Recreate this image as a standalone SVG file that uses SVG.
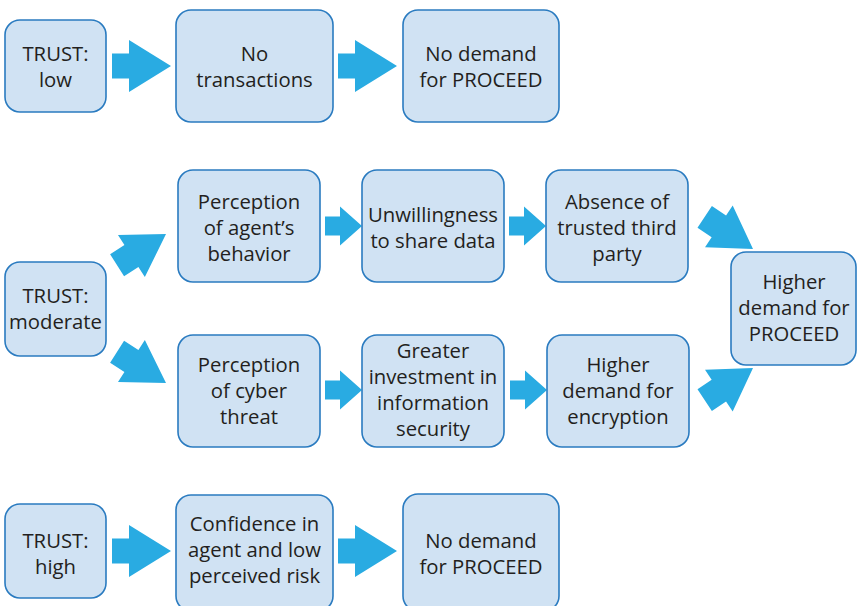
<svg xmlns="http://www.w3.org/2000/svg" xmlns:xlink="http://www.w3.org/1999/xlink" width="857" height="606" viewBox="0 0 857 606">
  <defs>
    <style>
      .box { fill: #d0e2f3; stroke: #2a7bc0; stroke-width: 1.6; }
      .lbl { font-family: "Open Sans", "Noto Sans", "Liberation Sans", sans-serif; font-size: 20.3px; fill: #231f20; text-anchor: middle; }
      .arr { fill: #29abe2; }
    </style>
    <!-- block arrows, tip at origin pointing +x -->
    <path id="bigArrow" d="M-59,-12.5 H-42 V-26 L0,0 L-42,26 V12.5 H-59 Z"/>
    <path id="smallArrow" d="M-37,-9.5 H-22 V-19.5 L0,0 L-22,19.5 V9.5 H-37 Z"/>
    <path id="diagArrow" d="M-58,-13 H-41 V-25 L0,0 L-41,25 V13 H-58 Z"/>
  </defs>

  <rect width="857" height="606" fill="#ffffff"/>

  <g id="connectors" class="arr">
    <!-- low trust row -->
    <use xlink:href="#bigArrow" transform="translate(171,66)"/>
    <use xlink:href="#bigArrow" transform="translate(397,66)"/>
    <!-- moderate trust rows -->
    <use xlink:href="#diagArrow" transform="translate(166,234) rotate(-32.5)"/>
    <use xlink:href="#diagArrow" transform="translate(166,383) rotate(32.5)"/>
    <use xlink:href="#smallArrow" transform="translate(362,226)"/>
    <use xlink:href="#smallArrow" transform="translate(546,226)"/>
    <use xlink:href="#smallArrow" transform="translate(362,390)"/>
    <use xlink:href="#smallArrow" transform="translate(547,390)"/>
    <use xlink:href="#diagArrow" transform="translate(753,249) rotate(33.6)"/>
    <use xlink:href="#diagArrow" transform="translate(753,368) rotate(-33.6)"/>
    <!-- high trust row -->
    <use xlink:href="#bigArrow" transform="translate(171,551)"/>
    <use xlink:href="#bigArrow" transform="translate(397,551)"/>
  </g>

  <!-- low trust -->
  <g id="trust-low">
    <rect class="box" x="5" y="20" width="101" height="92" rx="15"/>
    <text class="lbl"><tspan x="55.5" y="61">TRUST:</tspan><tspan x="55.5" y="87">low</tspan></text>
  </g>
  <g id="no-transactions">
    <rect class="box" x="176" y="10" width="157" height="112" rx="15"/>
    <text class="lbl"><tspan x="254.5" y="61">No</tspan><tspan x="254.5" y="87">transactions</tspan></text>
  </g>
  <g id="no-demand-low">
    <rect class="box" x="403" y="10" width="156" height="112" rx="15"/>
    <text class="lbl"><tspan x="481" y="61">No demand</tspan><tspan x="481" y="87">for PROCEED</tspan></text>
  </g>

  <!-- moderate trust -->
  <g id="trust-moderate">
    <rect class="box" x="5" y="262" width="101" height="94" rx="15"/>
    <text class="lbl"><tspan x="55.5" y="303">TRUST:</tspan><tspan x="55.5" y="329">moderate</tspan></text>
  </g>
  <g id="perception-agent">
    <rect class="box" x="178" y="170" width="142" height="112" rx="15"/>
    <text class="lbl"><tspan x="249" y="209">Perception</tspan><tspan x="249" y="235">of agent’s</tspan><tspan x="249" y="261">behavior</tspan></text>
  </g>
  <g id="unwillingness">
    <rect class="box" x="362" y="170" width="142" height="112" rx="15"/>
    <text class="lbl"><tspan x="433" y="222">Unwillingness</tspan><tspan x="433" y="248">to share data</tspan></text>
  </g>
  <g id="absence-third-party">
    <rect class="box" x="546" y="170" width="142" height="112" rx="15"/>
    <text class="lbl"><tspan x="617" y="209">Absence of</tspan><tspan x="617" y="235">trusted third</tspan><tspan x="617" y="261">party</tspan></text>
  </g>
  <g id="higher-demand-proceed">
    <rect class="box" x="731" y="252" width="125" height="113" rx="15"/>
    <text class="lbl"><tspan x="794" y="289">Higher</tspan><tspan x="794" y="315">demand for</tspan><tspan x="794" y="341">PROCEED</tspan></text>
  </g>
  <g id="perception-cyber">
    <rect class="box" x="178" y="335" width="142" height="112" rx="15"/>
    <text class="lbl"><tspan x="249" y="372">Perception</tspan><tspan x="249" y="398">of cyber</tspan><tspan x="249" y="424">threat</tspan></text>
  </g>
  <g id="greater-investment">
    <rect class="box" x="362" y="335" width="142" height="112" rx="15"/>
    <text class="lbl"><tspan x="433" y="358">Greater</tspan><tspan x="433" y="384">investment in</tspan><tspan x="433" y="410">information</tspan><tspan x="433" y="436">security</tspan></text>
  </g>
  <g id="higher-demand-encryption">
    <rect class="box" x="547" y="335" width="142" height="112" rx="15"/>
    <text class="lbl"><tspan x="618" y="372">Higher</tspan><tspan x="618" y="398">demand for</tspan><tspan x="618" y="424">encryption</tspan></text>
  </g>

  <!-- high trust -->
  <g id="trust-high">
    <rect class="box" x="5" y="504" width="101" height="94" rx="15"/>
    <text class="lbl"><tspan x="55.5" y="548">TRUST:</tspan><tspan x="55.5" y="574">high</tspan></text>
  </g>
  <g id="confidence">
    <rect class="box" x="176" y="495" width="157" height="116" rx="15"/>
    <text class="lbl"><tspan x="254.5" y="531">Confidence in</tspan><tspan x="254.5" y="557">agent and low</tspan><tspan x="254.5" y="583">perceived risk</tspan></text>
  </g>
  <g id="no-demand-high">
    <rect class="box" x="403" y="494" width="156" height="117" rx="15"/>
    <text class="lbl"><tspan x="481" y="548">No demand</tspan><tspan x="481" y="574">for PROCEED</tspan></text>
  </g>
</svg>
